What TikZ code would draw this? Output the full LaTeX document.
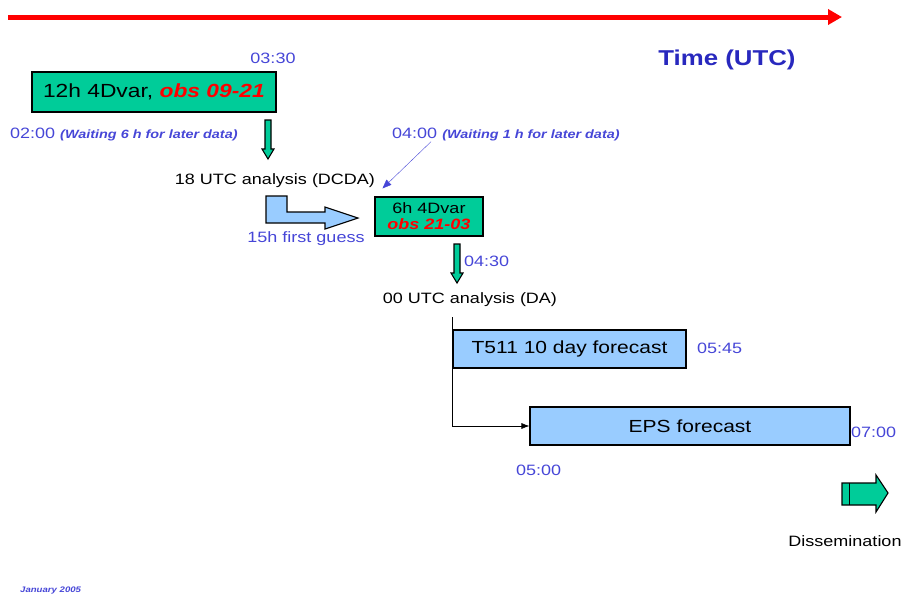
\documentclass[tikz,border=0pt]{standalone}
\usepackage{fontspec}
\setmainfont{Liberation Sans}[FakeStretch=1.2]
\usetikzlibrary{arrows.meta}
\definecolor{obsgreen}{RGB}{0,204,153}
\definecolor{fgblue}{RGB}{153,204,255}
\definecolor{timeblue}{RGB}{70,70,215}
\definecolor{titleblue}{RGB}{40,40,190}
\newcommand{\obstext}[1]{\textcolor{red}{\bfseries\itshape #1}}
\newcommand{\fsize}[1]{\fontsize{#1}{#1}\selectfont}

\begin{document}
\begin{tikzpicture}[x=1pt, y=-1pt,
        every node/.style={font=\fsize{15}, inner sep=0pt},
        greenbox/.style={rectangle, draw, line width=1.1pt, fill=obsgreen, align=center, font=\fsize{19}},
        bluebox/.style={rectangle, draw, line width=1.1pt, fill=fgblue, minimum height=38, font=\fsize{17.5}},
        fatarrow/.style={line width=1.1pt, line join=miter},
        timelbl/.style={text=timeblue},
        waitlbl/.style={text=timeblue, anchor=west},
        arrow/.style={-{Latex[length=8pt, width=6pt]}, semithick},
        thinarrow/.style={-{Triangle[length=9pt, width=7pt]}, draw=timeblue, thin}
    ]
%
    \useasboundingbox (0,0) rectangle (904,598);
%
    % Time axis
    \coordinate (axisstart) at (8,17);
    \coordinate (axisend) at (842,17);
    \draw[red, line width=5pt, -{Triangle[length=14pt, width=15pt]}] (axisstart) -- (axisend);
    \node[text=titleblue, font=\fsize{21.5}\bfseries] (title) at (727,60) {Time (UTC)};
%
    % 12h 4Dvar
    \node[timelbl] (t0330) at (273,58) {03:30};
    \node[greenbox, minimum width=244, minimum height=40, text width=222pt, align=left] (dvar12) at (154,92) {12h 4Dvar, \obstext{obs 09-21}};
    \node[waitlbl] (wait6) at (10,135) {02:00 {\fsize{12}\bfseries\itshape (Waiting 6 h for later data)}};
    \draw[fatarrow, fill=obsgreen] (265,120) -- (271,120) -- (271,149) -- (274,149) -- (268,159)
        -- (262,149) -- (265,149) -- cycle;
    \node (dcda) at (275,181) {18 UTC analysis (DCDA)};
%
    % 6h 4Dvar
    \node[waitlbl] (wait1) at (392,135) {04:00 {\fsize{12}\bfseries\itshape (Waiting 1 h for later data)}};
    \node[greenbox, minimum width=108, minimum height=39, font=\fsize{15}] (dvar6) at (429,216.5) {6h 4Dvar\\[1pt]\obstext{obs 21-03}};
    \draw[thinarrow] ([xshift=39pt]wait1.south west) -- ([xshift=8pt, yshift=8pt]dvar6.north west);
    \draw[fatarrow, fill=fgblue] (266,196) -- (287,196) -- (287,212) -- (325,212) -- (325,207)
        -- (358,218) -- (325,229) -- (325,223) -- (266,223) -- cycle;
    \node[timelbl] (guess) at (306,239) {15h first guess};
    \draw[fatarrow, fill=obsgreen] (454,244) -- (460,244) -- (460,273) -- (463,273) -- (457,283)
        -- (451,273) -- (454,273) -- cycle;
    \node[timelbl, anchor=west] (t0430) at (464,261) {04:30};
    \node (da) at (470,300) {00 UTC analysis (DA)};
%
    % Forecasts
    \node[bluebox, minimum width=233] (t511) at (569.5,349) {T511 10 day forecast};
    \node[timelbl, anchor=west] (t0545) at (697,348) {05:45};
    \node[bluebox, minimum width=320] (eps) at (690,426) {EPS forecast};
    \node[timelbl, anchor=west] (t0700) at (851,432) {07:00};
    \node[timelbl, anchor=west] (t0500) at (516,470) {05:00};
    \draw[arrow] ([yshift=-10pt]t511.west |- da.south) |- (eps.west);
%
    % Dissemination
    \draw[fatarrow, fill=obsgreen] (842,483) -- (876,483) -- (876,475) -- (888,493) -- (876,512)
        -- (876,505) -- (842,505) -- cycle;
    \draw[semithick] (849,483) -- (849,505);
    \node (dissem) at (845,541) {Dissemination};
%
    \node[text=timeblue, anchor=west, font=\fsize{8}\bfseries\itshape] (date) at (20,591) {January 2005};
\end{tikzpicture}
\end{document}
